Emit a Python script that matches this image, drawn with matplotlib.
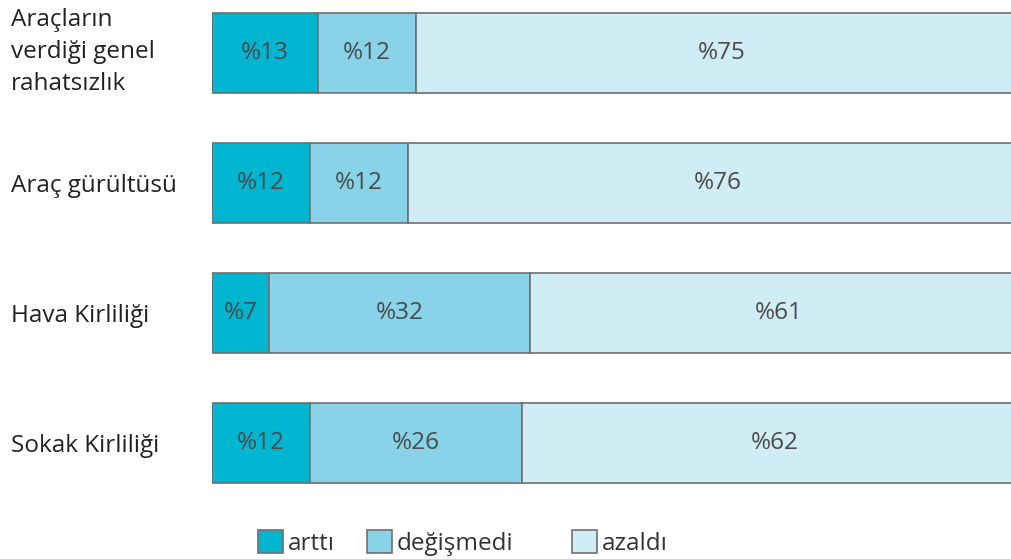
import matplotlib.pyplot as plt
from matplotlib.patches import Patch
from matplotlib.transforms import ScaledTranslation

plt.rcParams['font.family'] = ['Open Sans', 'DejaVu Sans']

categories = ['Araçların\nverdiği genel\nrahatsızlık', 'Araç gürültüsü',
              'Hava Kirliliği', 'Sokak Kirliliği']
arttı = [13, 12, 7, 12]
degismedi = [12, 12, 32, 26]
azaldı = [75, 76, 61, 62]
series_names = ['arttı', 'değişmedi', 'azaldı']
colors = ['#00b5cf', '#88d3e8', '#d0ecf4']
edge = '#6f6f6f'

fig = plt.figure(figsize=(10.11, 5.59), dpi=100)
ax = fig.add_axes([212 / 1011, 1 - 495 / 559, 812 / 1011, 494 / 559])

ypos = range(len(categories))
left = [0] * len(categories)
for vals, col in zip([arttı, degismedi, azaldı], colors):
    bars = ax.barh(ypos, vals, left=left, height=0.615, color=col,
                   edgecolor=edge, linewidth=1.2)
    for b, v in zip(bars, vals):
        ax.text(b.get_x() + b.get_width() / 2, b.get_y() + b.get_height() / 2,
                '%' + str(v), ha='center', va='center', fontsize=17.5,
                color='#4a4a4a')
    left = [l + v for l, v in zip(left, vals)]

ax.set_xlim(0, 99.5)
ax.set_ylim(3.4, -0.4)
ax.set_yticks(list(ypos))
ax.set_yticklabels(categories, fontsize=17.5, color='#222222', ha='left',
                   linespacing=1.45)
ax.tick_params(axis='y', length=0, pad=145)
first = ax.get_yticklabels()[0]
first.set_transform(first.get_transform() +
                    ScaledTranslation(0, 6 / 72, fig.dpi_scale_trans))
ax.set_xticks([])
for s in ax.spines.values():
    s.set_visible(False)

handles = [Patch(facecolor=c, edgecolor=edge, linewidth=1.2) for c in colors]
leg_kw = dict(loc='center left', frameon=False, fontsize=17.5,
              handlelength=1.05, handleheight=1.05, handletextpad=0.2,
              borderaxespad=0, labelcolor='#333333')
leg1 = fig.legend(handles[:2], series_names[:2], ncol=2, columnspacing=1.3,
                  bbox_to_anchor=(248 / 1011, 1 - 543 / 559), **leg_kw)
leg2 = fig.legend(handles[2:], series_names[2:], ncol=1,
                  bbox_to_anchor=(562 / 1011, 1 - 543 / 559), **leg_kw)

fig.savefig('out.png', dpi=100)
